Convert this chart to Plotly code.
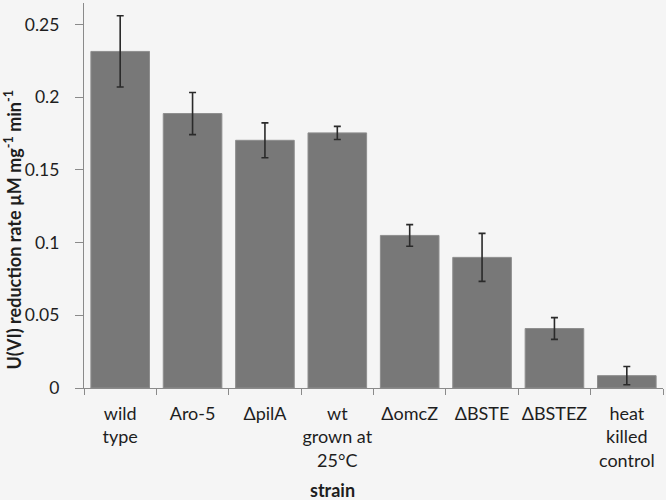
import plotly.graph_objects as go

categories = ["wild<br>type", "Aro-5", "ΔpilA", "wt<br>grown at<br>25°C", "ΔomcZ", "ΔBSTE", "ΔBSTEZ", "heat<br>killed<br>control"]
rates = [0.2314, 0.1887, 0.1703, 0.1754, 0.1049, 0.0898, 0.0409, 0.0085]
errors = [0.0245, 0.0145, 0.0120, 0.0045, 0.0074, 0.0165, 0.0075, 0.0063]
y_ticks = [0, 0.05, 0.1, 0.15, 0.2, 0.25]
y_tick_labels = ["0", "0.05", "0.1", "0.15", "0.2", "0.25"]

BG = "#f5f5f5"
FONT = "Lato"

fig = go.Figure(go.Bar(
    x=categories, y=rates,
    marker=dict(color="#787878", line=dict(color="#8e8e8e", width=1)),
    error_y=dict(type="data", array=errors, visible=True, color="#2a2a2a", thickness=1.6, width=3.5),
))

fig.update_layout(
    width=666, height=500,
    margin=dict(l=84, r=3, t=3, b=112),
    paper_bgcolor=BG, plot_bgcolor=BG,
    bargap=0.19,
    showlegend=False,
    font=dict(family=FONT, size=18, color="#1e1e1e"),
    xaxis=dict(
        type="category", showgrid=False, showline=True, linecolor="#8a8a8a", linewidth=1.2,
        ticks="outside", tickson="boundaries", ticklen=6, tickcolor="#8a8a8a",
        tickangle=0, automargin=False, ticklabelstandoff=9,
        tickfont=dict(family=FONT, size=18, color="#1e1e1e"),
    ),
    yaxis=dict(
        range=[0, 0.2647], showgrid=False, zeroline=False, showline=True, linecolor="#8a8a8a", linewidth=1.2,
        ticks="outside", ticklen=8, tickcolor="#8a8a8a", automargin=False, ticklabelstandoff=12,
        tickvals=y_ticks, ticktext=y_tick_labels,
        tickfont=dict(family=FONT, size=17.5, color="#1e1e1e"),
    ),
    annotations=[
        dict(text="<b>U(VI) reduction rate µM mg<sup>-1</sup> min<sup>-1</sup></b>",
             xref="paper", yref="paper", x=-0.122, y=0.41, xanchor="center", yanchor="middle",
             textangle=-90, showarrow=False, font=dict(family=FONT, size=18, color="#1e1e1e")),
        dict(text="<b>strain</b>",
             xref="paper", yref="paper", x=(332 - 84) / 579, y=-(490 - 388) / 385,
             xanchor="center", yanchor="middle", showarrow=False,
             font=dict(family=FONT, size=18, color="#1e1e1e")),
    ],
)

fig.write_html(
    "out.html",
    config={"displayModeBar": False},
    post_script="document.body.style.margin='0';document.body.style.background='" + BG + "';",
)
